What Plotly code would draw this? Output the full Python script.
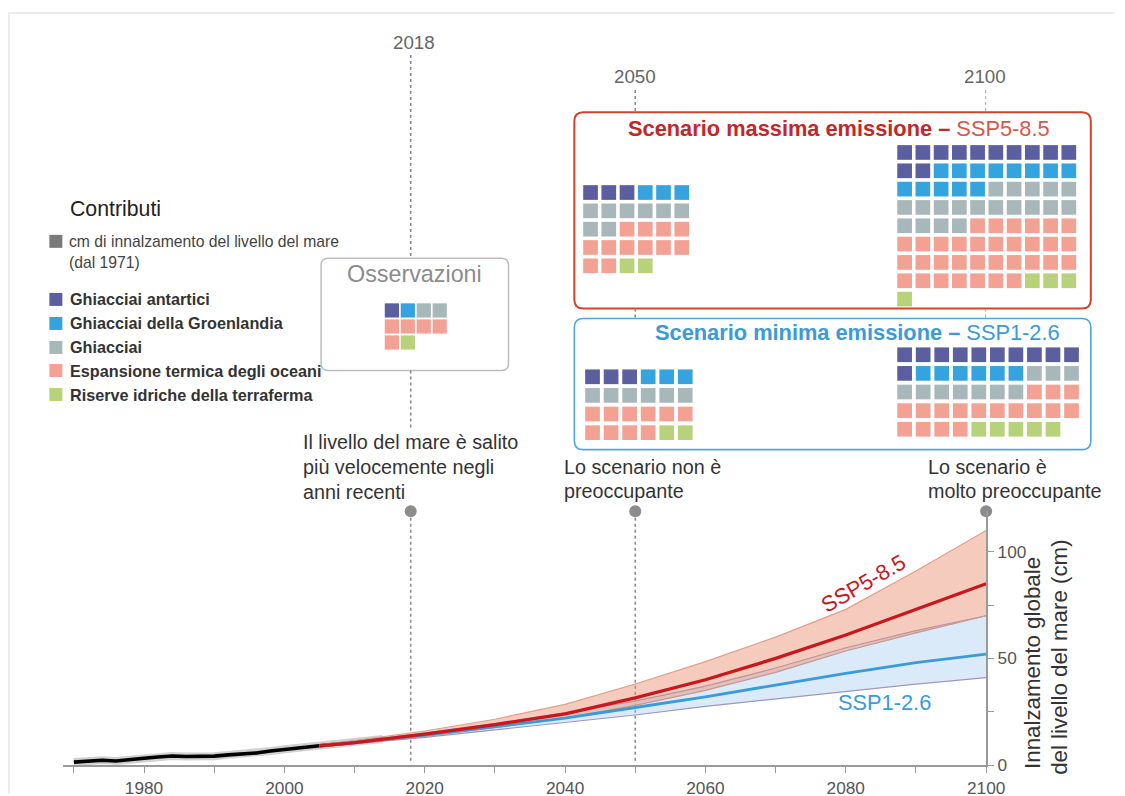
import plotly.graph_objects as go

# ---- data -------------------------------------------------------------
obs_years = [1970, 1972, 1974, 1976, 1978, 1980, 1982, 1984, 1986, 1988, 1990,
             1992, 1994, 1996, 1998, 2000, 2002, 2004, 2006, 2008, 2010, 2012, 2014]
obs_cm = [1.4, 2.0, 2.3, 1.9, 2.7, 3.2, 3.8, 4.3, 4.0, 3.9, 4.2,
          4.8, 5.2, 5.7, 6.6, 7.4, 8.1, 8.8, 9.4, 10.0, 10.6, 11.4, 12.2]

proj_years = [2005, 2010, 2020, 2030, 2040, 2050, 2060, 2070, 2080, 2090, 2100]
ssp585_mid = [9.0, 10.5, 14.5, 19.0, 24.0, 31.5, 40.0, 50.0, 61.0, 73.0, 85.0]
ssp585_hi = [9.5, 11.5, 16.0, 21.5, 28.5, 38.0, 48.5, 60.0, 73.0, 91.0, 110.0]
ssp585_lo = [8.5, 10.0, 13.5, 17.5, 22.0, 28.0, 35.0, 43.5, 53.5, 62.0, 70.0]
ssp126_mid = [9.0, 10.5, 14.0, 18.0, 22.0, 27.0, 32.0, 37.5, 43.0, 48.0, 52.0]
ssp126_hi = [9.5, 11.0, 15.0, 19.5, 24.5, 30.0, 37.0, 45.5, 55.0, 63.0, 70.0]
ssp126_lo = [8.5, 10.0, 13.0, 16.5, 20.0, 23.5, 27.5, 31.0, 34.5, 38.0, 41.0]

marker_years = [2018, 2050, 2100]

categories = ["Ghiacciai antartici", "Ghiacciai della Groenlandia", "Ghiacciai",
              "Espansione termica degli oceani", "Riserve idriche della terraferma"]
cat_colors = ["#5b5e9f", "#35a4de", "#a8b8ba", "#f2a193", "#b7d27b"]

# cm per contribution (one square = 1 cm)
obs_counts = [1, 1, 2, 5, 1]
ssp585_2050 = [3, 3, 8, 12, 2]
ssp585_2100 = [12, 13, 19, 33, 4]
ssp126_2050 = [3, 3, 6, 10, 2]
ssp126_2100 = [11, 6, 10, 17, 5]

FONT = "Liberation Sans, Arial, sans-serif"
RED = "#c8181e"
BLUE = "#3a9bd8"

W, H = 1125, 796
# the page shows the figure shifted by OFF and scaled by S, so the overlay
# axis is set up to work directly in screen pixels
OFF, S = 8, 0.986


def fx(p):
    return (p - OFF) / S


fig = go.Figure()

# ---- main chart ------------------------------------------------------
fig.add_trace(go.Scatter(x=obs_years, y=obs_cm, mode="lines",
                         line=dict(color="rgba(0,0,0,0.18)", width=8), hoverinfo="skip"))
fig.add_trace(go.Scatter(x=obs_years, y=obs_cm, mode="lines",
                         line=dict(color="black", width=3.6), name="Osservazioni"))

# SSP1-2.6 band
fig.add_trace(go.Scatter(x=proj_years, y=ssp126_lo, mode="lines",
                         line=dict(color="#9a98c0", width=1.2), hoverinfo="skip"))
fig.add_trace(go.Scatter(x=proj_years, y=ssp126_hi, mode="lines", fill="tonexty",
                         fillcolor="rgba(170,205,240,0.42)",
                         line=dict(color="#9a98c0", width=1.2), hoverinfo="skip"))
# SSP5-8.5 band
fig.add_trace(go.Scatter(x=proj_years, y=ssp585_lo, mode="lines",
                         line=dict(color="#c9968c", width=1.2), hoverinfo="skip"))
fig.add_trace(go.Scatter(x=proj_years, y=ssp585_hi, mode="lines", fill="tonexty",
                         fillcolor="rgba(232,140,110,0.45)",
                         line=dict(color="#e0a08c", width=1.2), hoverinfo="skip"))

fig.add_trace(go.Scatter(x=proj_years, y=ssp126_mid, mode="lines",
                         line=dict(color=BLUE, width=2.8), name="SSP1-2.6"))
fig.add_trace(go.Scatter(x=proj_years, y=ssp585_mid, mode="lines",
                         line=dict(color=RED, width=3.3), name="SSP5-8.5"))

# grey dots on top of the time markers
fig.add_trace(go.Scatter(x=marker_years, y=[119] * 3, mode="markers", cliponaxis=False,
                         marker=dict(color="#8c8c8c", size=12), hoverinfo="skip"))


# ---- waffles (on the pixel overlay axis) -----------------------------
def waffle(counts, ncols, x0, y0, pitch, size):
    xs, ys, cs = [], [], []
    i = 0
    for n, col in zip(counts, cat_colors):
        for _ in range(n):
            xs.append(x0 + (i % ncols) * pitch + size / 2)
            ys.append(y0 + (i // ncols) * pitch + size / 2)
            cs.append(col)
            i += 1
    fig.add_trace(go.Scatter(x=xs, y=ys, mode="markers", xaxis="x2", yaxis="y2",
                             marker=dict(symbol="square", size=size / S, color=cs, line_width=0),
                             hoverinfo="skip"))


waffle(obs_counts, 4, 386, 303, 16, 14)
waffle(ssp585_2050, 6, 585, 185, 18.3, 14.5)
waffle(ssp585_2100, 10, 900, 145, 18.3, 14.5)
waffle(ssp126_2050, 6, 587, 369, 18.6, 14.5)
waffle(ssp126_2100, 10, 900, 347, 18.6, 14.5)

# legend squares
leg_y = [299, 323, 347, 370, 394]
fig.add_trace(go.Scatter(x=[56] * 6, y=[241] + leg_y, mode="markers", xaxis="x2", yaxis="y2",
                         marker=dict(symbol="square", size=13,
                                     color=["#7a7a7a"] + cat_colors, line_width=0),
                         hoverinfo="skip"))


# ---- shapes ----------------------------------------------------------
def rrect(x0, y0, x1, y1, r):
    return (f"M{x0 + r},{y0} L{x1 - r},{y0} Q{x1},{y0} {x1},{y0 + r} "
            f"L{x1},{y1 - r} Q{x1},{y1} {x1 - r},{y1} L{x0 + r},{y1} "
            f"Q{x0},{y1} {x0},{y1 - r} L{x0},{y0 + r} Q{x0},{y0} {x0 + r},{y0} Z")


shapes = [
    dict(type="rect", xref="x2", yref="y2", x0=9, y0=13, x1=1140, y1=810,
         line=dict(color="#ececec", width=2), layer="below"),
    dict(type="path", xref="x2", yref="y2", path=rrect(322, 258, 510, 370, 7),
         line=dict(color="#bdbdbd", width=1.5)),
    dict(type="path", xref="x2", yref="y2", path=rrect(576, 112, 1094, 308, 9),
         line=dict(color="#d2432c", width=2)),
    dict(type="path", xref="x2", yref="y2", path=rrect(576, 318, 1094, 449, 9),
         line=dict(color="#4ea6df", width=1.6)),
]
dot = dict(color="#8a8a8a", width=1.6, dash="dot")
segments = [
    (2018, 55, 258), (2018, 370, 428),
    (2050, 90, 112), (2050, 308, 318),
    (2100, 90, 112), (2100, 308, 318),
]
for yr, a, b in segments:
    shapes.append(dict(type="line", xref="x", yref="y2", x0=yr, x1=yr, y0=a, y1=b, line=dot))
for yr in [2018, 2050]:
    shapes.append(dict(type="line", xref="x", yref="y", x0=yr, x1=yr, y0=2, y1=119,
                       line=dot, layer="below"))

# ---- text ------------------------------------------------------------
ann = []


def txt(x, y, s, size, color="#333333", anchor="left", **kw):
    ann.append(dict(x=x, y=y, xref="x2", yref="y2", text=s, showarrow=False,
                    xanchor=anchor, yanchor="middle",
                    font=dict(family=FONT, size=size / S, color=color), **kw))


txt(415, 42, "2018", 18.5, "#666666", "center")
txt(637, 76, "2050", 18.5, "#666666", "center")
txt(988, 76, "2100", 18.5, "#666666", "center")

txt(68, 209, "Contributi", 21, "#222222")
txt(67, 241, "cm di innalzamento del livello del mare", 15.5, "#444444")
txt(67, 262, "(dal 1971)", 15.5, "#444444")
for yy, name in zip(leg_y, categories):
    txt(68, yy, f"<b>{name}</b>", 16, "#333333")

txt(416, 274, "Osservazioni", 23, "#8c8c8c", "center")
txt(841, 128, "<b>Scenario massima emissione –</b> "
    "<span style='color:#d9574a'>SSP5-8.5</span>", 21.5, "#c4262a", "center")
txt(860, 332, "<b>Scenario minima emissione –</b> SSP1-2.6", 21.5, BLUE, "center")

for i, line in enumerate(["Il livello del mare è salito", "più velocemente negli", "anni recenti"]):
    txt(302, 441 + 25 * i, line, 19.5)
for i, line in enumerate(["Lo scenario non è", "preoccupante"]):
    txt(564, 466 + 24 * i, line, 19.5)
for i, line in enumerate(["Lo scenario è", "molto preoccupante"]):
    txt(929, 466 + 24 * i, line, 19.5)

txt(866, 583, "SSP5-8.5", 21.5, RED, "center", textangle=-30)
txt(887, 701, "SSP1-2.6", 21.5, BLUE, "center")
txt(1036, 662, "Innalzamento globale", 22, "#333333", "center", textangle=-90)
txt(1063, 656, "del livello del mare (cm)", 22, "#333333", "center", textangle=-90)

# ---- layout ----------------------------------------------------------
# plot area in screen pixels
x_px = (63.5, 989.0)
y_px = (764.0, 510.5)
tick_font = dict(size=17 / S, color="#555555")

fig.update_layout(
    width=W, height=H, margin=dict(l=0, r=0, t=0, b=0),
    paper_bgcolor="white", plot_bgcolor="rgba(0,0,0,0)",
    showlegend=False, font=dict(family=FONT),
    shapes=shapes, annotations=ann,
    xaxis=dict(domain=[fx(x_px[0]) / W, fx(x_px[1]) / W], range=[1968.5, 2100],
               tickmode="linear", tick0=1980, dtick=20,
               ticks="outside", ticklen=6, tickcolor="#999999",
               minor=dict(tickmode="linear", tick0=1970, dtick=10, ticks="outside",
                          ticklen=6, tickcolor="#999999"),
               showline=True, linecolor="#999999", linewidth=2,
               showgrid=False, zeroline=False, tickfont=tick_font, anchor="y"),
    yaxis=dict(domain=[1 - fx(y_px[0]) / H, 1 - fx(y_px[1]) / H], range=[0, 119],
               side="right", tickvals=[0, 50, 100],
               ticks="outside", ticklen=6, tickcolor="#999999",
               minor=dict(tickvals=[25, 75], ticks="outside", ticklen=6, tickcolor="#999999"),
               showline=True, linecolor="#999999", linewidth=2,
               showgrid=False, zeroline=False, tickfont=tick_font, anchor="x"),
    xaxis2=dict(domain=[0, 1], range=[OFF, OFF + S * W], visible=False, anchor="y2",
                fixedrange=True),
    yaxis2=dict(domain=[0, 1], range=[OFF + S * H, OFF], visible=False, anchor="x2",
                fixedrange=True),
)

fig.write_html("out.html")
